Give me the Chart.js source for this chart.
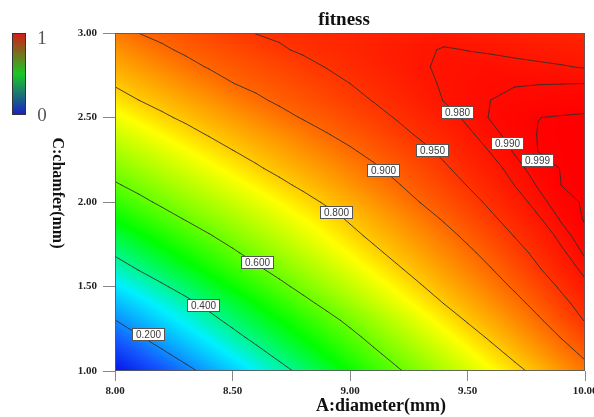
<!DOCTYPE html>
<html>
<head>
<meta charset="utf-8">
<script src="https://cdn.jsdelivr.net/npm/chart.js@4.4.0/dist/chart.umd.min.js"></script>
<style>
  html, body { margin: 0; padding: 0; background: #fff; }
  #wrap { width: 594px; height: 417px; }
</style>
</head>
<body>
<div id="wrap"><canvas id="chart" width="594" height="417"></canvas></div>
<script>
// Response-surface grid: diameter A (mm) across, chamfer C (mm) up.
const diameterA = [8.0, 8.1, 8.2, 8.3, 8.4, 8.5, 8.6, 8.7, 8.8, 8.9, 9.0,
                   9.1, 9.2, 9.3, 9.4, 9.5, 9.6, 9.7, 9.8, 9.9, 10.0];
const chamferC = [1.0, 1.1, 1.2, 1.3, 1.4, 1.5, 1.6, 1.7, 1.8, 1.9, 2.0,
                  2.1, 2.2, 2.3, 2.4, 2.5, 2.6, 2.7, 2.8, 2.9, 3.0];

// fitness, one row per chamfer value (C = 1.0 first), one column per diameter
const fitness = [
  [0.030,0.079,0.127,0.176,0.225,0.274,0.324,0.374,0.420,0.463,0.506,0.548,0.591,0.630,0.668,0.706,0.745,0.783,0.818,0.852,0.885],
  [0.087,0.135,0.184,0.232,0.280,0.327,0.375,0.420,0.461,0.503,0.544,0.586,0.625,0.663,0.701,0.740,0.778,0.814,0.846,0.879,0.908],
  [0.143,0.192,0.238,0.284,0.330,0.377,0.420,0.461,0.500,0.540,0.580,0.620,0.658,0.696,0.734,0.773,0.809,0.840,0.871,0.902,0.931],
  [0.199,0.244,0.289,0.333,0.378,0.420,0.459,0.498,0.538,0.577,0.616,0.654,0.692,0.730,0.768,0.805,0.834,0.864,0.894,0.923,0.952],
  [0.253,0.295,0.337,0.379,0.420,0.460,0.500,0.540,0.580,0.618,0.655,0.691,0.728,0.764,0.801,0.829,0.858,0.886,0.914,0.941,0.964],
  [0.307,0.348,0.390,0.429,0.468,0.506,0.545,0.583,0.620,0.655,0.691,0.726,0.761,0.796,0.825,0.852,0.879,0.906,0.931,0.955,0.975],
  [0.360,0.402,0.439,0.476,0.513,0.550,0.587,0.622,0.656,0.690,0.724,0.758,0.792,0.820,0.846,0.872,0.898,0.923,0.947,0.967,0.985],
  [0.411,0.447,0.483,0.518,0.554,0.590,0.624,0.656,0.689,0.722,0.755,0.788,0.816,0.841,0.866,0.891,0.915,0.938,0.958,0.977,0.992],
  [0.456,0.491,0.525,0.560,0.595,0.627,0.658,0.689,0.721,0.752,0.784,0.812,0.836,0.861,0.885,0.909,0.930,0.951,0.968,0.985,0.997],
  [0.502,0.536,0.571,0.604,0.633,0.662,0.692,0.721,0.750,0.779,0.807,0.832,0.856,0.881,0.904,0.925,0.945,0.962,0.978,0.9915,1.000],
  [0.547,0.581,0.613,0.641,0.669,0.697,0.725,0.753,0.781,0.807,0.831,0.854,0.878,0.901,0.920,0.939,0.956,0.972,0.986,0.996,1.000],
  [0.592,0.621,0.649,0.677,0.704,0.732,0.759,0.787,0.811,0.833,0.854,0.876,0.897,0.916,0.934,0.951,0.966,0.9802,0.991,0.9991,1.000],
  [0.629,0.656,0.684,0.711,0.738,0.765,0.793,0.815,0.834,0.854,0.874,0.894,0.912,0.929,0.946,0.961,0.974,0.986,0.995,0.9994,1.000],
  [0.665,0.692,0.718,0.745,0.772,0.798,0.818,0.837,0.857,0.876,0.895,0.911,0.926,0.942,0.956,0.969,0.981,0.991,0.9991,0.9995,1.000],
  [0.701,0.727,0.754,0.780,0.804,0.823,0.842,0.860,0.879,0.898,0.912,0.926,0.941,0.954,0.965,0.977,0.987,0.994,0.9993,0.9996,1.000],
  [0.737,0.763,0.790,0.811,0.830,0.848,0.867,0.886,0.903,0.915,0.928,0.940,0.952,0.963,0.973,0.983,0.991,0.9944,0.9989,0.9996,1.000],
  [0.773,0.799,0.818,0.837,0.855,0.874,0.892,0.907,0.918,0.929,0.940,0.951,0.961,0.971,0.9805,0.9855,0.9901,0.9916,0.993,0.9944,0.9958],
  [0.806,0.825,0.843,0.862,0.880,0.899,0.910,0.920,0.930,0.940,0.9499,0.959,0.967,0.976,0.9817,0.9848,0.9879,0.9896,0.9898,0.9899,0.9901],
  [0.831,0.850,0.868,0.887,0.903,0.913,0.923,0.932,0.942,0.951,0.958,0.965,0.972,0.979,0.9814,0.9832,0.985,0.9836,0.9823,0.9809,0.979],
  [0.855,0.874,0.893,0.907,0.917,0.927,0.937,0.947,0.9536,0.9585,0.9634,0.9683,0.9732,0.978,0.9809,0.9798,0.9783,0.9767,0.9751,0.9736,0.972],
  [0.880,0.9002,0.911,0.921,0.932,0.942,0.9508,0.954,0.9571,0.9603,0.9634,0.9666,0.9697,0.9729,0.976,0.9738,0.9717,0.9695,0.9673,0.9652,0.963]
];

const contourLevels = [0.2, 0.4, 0.6, 0.8, 0.9, 0.95, 0.98, 0.99, 0.999];
const contourLabels = ['0.200', '0.400', '0.600', '0.800', '0.900', '0.950', '0.980', '0.990', '0.999'];
// where each contour carries its tag, as (diameter, chamfer)
const labelAtA = [8.14, 8.374, 8.604, 8.94, 9.14, 9.349, 9.455, 9.668, 9.796];
const labelAtC = [1.219, 1.391, 1.645, 1.941, 2.189, 2.308, 2.533, 2.349, 2.249];

const xTickValues = [8.0, 8.5, 9.0, 9.5, 10.0];
const yTickValues = [1.0, 1.5, 2.0, 2.5, 3.0];

// colour ramp: blue - cyan - green - yellow - red
const ramp = [
  [0.00, [0, 0, 225]],
  [0.14, [20, 90, 255]],
  [0.32, [0, 240, 255]],
  [0.50, [0, 255, 0]],
  [0.75, [255, 255, 0]],
  [1.00, [255, 0, 0]]
];

function rampColor(v) {
  v = Math.max(0, Math.min(1, v));
  for (let k = 1; k < ramp.length; k++) {
    if (v <= ramp[k][0]) {
      const [v0, c0] = ramp[k - 1], [v1, c1] = ramp[k];
      const t = (v - v0) / (v1 - v0);
      return [c0[0] + (c1[0] - c0[0]) * t, c0[1] + (c1[1] - c0[1]) * t, c0[2] + (c1[2] - c0[2]) * t];
    }
  }
  return ramp[ramp.length - 1][1];
}

// bilinear read of the grid between its nodes
function fitnessAt(a, c) {
  const nA = diameterA.length, nC = chamferC.length;
  const stepA = diameterA[1] - diameterA[0], stepC = chamferC[1] - chamferC[0];
  let fi = Math.max(0, Math.min(nA - 1, (a - diameterA[0]) / stepA));
  let fj = Math.max(0, Math.min(nC - 1, (c - chamferC[0]) / stepC));
  const i = Math.min(Math.floor(fi), nA - 2), j = Math.min(Math.floor(fj), nC - 2);
  const tx = fi - i, ty = fj - j;
  return fitness[j][i] * (1 - tx) * (1 - ty) + fitness[j][i + 1] * tx * (1 - ty) +
         fitness[j + 1][i] * (1 - tx) * ty + fitness[j + 1][i + 1] * tx * ty;
}

// marching squares over the grid, one list of segments per level
function contourSegments(level) {
  const segs = [];
  const above = v => v >= level;
  for (let j = 0; j < chamferC.length - 1; j++) {
    for (let i = 0; i < diameterA.length - 1; i++) {
      const corners = [
        [diameterA[i], chamferC[j], fitness[j][i]],
        [diameterA[i + 1], chamferC[j], fitness[j][i + 1]],
        [diameterA[i + 1], chamferC[j + 1], fitness[j + 1][i + 1]],
        [diameterA[i], chamferC[j + 1], fitness[j + 1][i]]
      ];
      const pts = [];
      for (let e = 0; e < 4; e++) {
        const p = corners[e], q = corners[(e + 1) % 4];
        if (above(p[2]) !== above(q[2])) {
          const t = (level - p[2]) / (q[2] - p[2]);
          pts.push({ e, a: p[0] + (q[0] - p[0]) * t, c: p[1] + (q[1] - p[1]) * t });
        }
      }
      if (pts.length === 2) {
        segs.push([pts[0], pts[1]]);
      } else if (pts.length === 4) {
        const centre = (corners[0][2] + corners[1][2] + corners[2][2] + corners[3][2]) / 4;
        if (above(centre) === above(corners[0][2])) {
          segs.push([pts[0], pts[1]], [pts[2], pts[3]]);
        } else {
          segs.push([pts[3], pts[0]], [pts[1], pts[2]]);
        }
      }
    }
  }
  return segs;
}

const surfacePlugin = {
  id: 'surface',
  beforeDatasetsDraw(chart) {
    const { ctx, chartArea } = chart;
    const xs = chart.scales.x, ys = chart.scales.y;
    const left = Math.round(chartArea.left), top = Math.round(chartArea.top);
    const w = Math.round(chartArea.right) - left, h = Math.round(chartArea.bottom) - top;

    // colour field
    const off = document.createElement('canvas');
    off.width = w; off.height = h;
    const octx = off.getContext('2d');
    const img = octx.createImageData(w, h);
    for (let py = 0; py < h; py++) {
      const c = ys.getValueForPixel(top + py + 0.5);
      for (let px = 0; px < w; px++) {
        const a = xs.getValueForPixel(left + px + 0.5);
        const col = rampColor(fitnessAt(a, c));
        const k = (py * w + px) * 4;
        img.data[k] = col[0]; img.data[k + 1] = col[1]; img.data[k + 2] = col[2]; img.data[k + 3] = 255;
      }
    }
    octx.putImageData(img, 0, 0);
    ctx.drawImage(off, left, top);

    // contour lines
    ctx.save();
    ctx.beginPath();
    ctx.rect(left, top, w, h);
    ctx.clip();
    ctx.strokeStyle = 'rgba(45,45,45,0.85)';
    ctx.lineWidth = 1;
    ctx.lineCap = 'round';
    ctx.lineJoin = 'round';
    contourLevels.forEach(level => {
      ctx.beginPath();
      contourSegments(level).forEach(([p, q]) => {
        ctx.moveTo(xs.getPixelForValue(p.a), ys.getPixelForValue(p.c));
        ctx.lineTo(xs.getPixelForValue(q.a), ys.getPixelForValue(q.c));
      });
      ctx.stroke();
    });
    ctx.restore();

    // frame
    ctx.save();
    ctx.strokeStyle = 'rgba(90,90,90,0.9)';
    ctx.lineWidth = 1;
    ctx.strokeRect(left + 0.5, top + 0.5, w - 1, h - 1);
    ctx.restore();

    // contour tags
    ctx.save();
    ctx.font = '10px "Liberation Sans", Arial, sans-serif';
    ctx.textAlign = 'center';
    ctx.textBaseline = 'middle';
    contourLabels.forEach((txt, k) => {
      const x = xs.getPixelForValue(labelAtA[k]), y = ys.getPixelForValue(labelAtC[k]);
      const tw = ctx.measureText(txt).width;
      const bw = Math.round(tw + 7), bh = 12;
      const bx = Math.round(x - bw / 2) + 0.5, by = Math.round(y - bh / 2) + 0.5;
      ctx.fillStyle = '#ffffff';
      ctx.fillRect(bx, by, bw, bh);
      ctx.strokeStyle = '#555555';
      ctx.lineWidth = 1;
      ctx.strokeRect(bx, by, bw, bh);
      ctx.fillStyle = '#3a3a3a';
      ctx.fillText(txt, Math.round(x) + 0.5, Math.round(y) + 1);
    });
    ctx.restore();
  },
  afterDraw(chart) {
    const { ctx } = chart;
    ctx.save();
    // title
    ctx.fillStyle = '#111';
    ctx.textAlign = 'center';
    ctx.textBaseline = 'alphabetic';
    ctx.font = 'bold 19px "Liberation Serif", "Times New Roman", serif';
    ctx.fillText('fitness', 344, 25);
    // axis titles
    ctx.font = 'bold 18px "Liberation Serif", "Times New Roman", serif';
    ctx.fillText('A:diameter(mm)', 381, 411);
    ctx.save();
    ctx.translate(57, 193);
    ctx.rotate(Math.PI / 2);
    ctx.textBaseline = 'middle';
    ctx.font = 'bold 16px "Liberation Serif", "Times New Roman", serif';
    ctx.fillText('C:chamfer(mm)', 0, 0);
    ctx.restore();

    // colour key
    const kx = 12, ky = 33, kw = 14, kh = 82;
    const g = ctx.createLinearGradient(0, ky, 0, ky + kh);
    g.addColorStop(0, 'rgb(215,25,25)');
    g.addColorStop(0.5, 'rgb(25,200,35)');
    g.addColorStop(1, 'rgb(25,30,200)');
    ctx.fillStyle = g;
    ctx.fillRect(kx, ky, kw, kh);
    ctx.strokeStyle = '#333';
    ctx.lineWidth = 1;
    ctx.strokeRect(kx + 0.5, ky + 0.5, kw - 1, kh - 1);
    ctx.fillStyle = '#555';
    ctx.font = '19px "Liberation Serif", "Times New Roman", serif';
    ctx.textBaseline = 'middle';
    ctx.fillText('1', 42, 39);
    ctx.fillText('0', 42, 116);
    ctx.restore();
  }
};

const tickFont = { family: '"Liberation Serif", "Times New Roman", serif', size: 11, weight: 'bold' };

new Chart(document.getElementById('chart'), {
  type: 'scatter',
  data: { datasets: [] },
  options: {
    responsive: false,
    animation: false,
    events: [],
    layout: { padding: { top: 33, right: 9, left: 0, bottom: 0 } },
    plugins: { legend: { display: false }, tooltip: { enabled: false }, title: { display: false } },
    scales: {
      x: {
        type: 'linear', min: 8, max: 10,
        afterBuildTicks: s => { s.ticks = xTickValues.map(v => ({ value: v })); },
        afterFit: s => { s.height = 46; s.paddingLeft = 0; s.paddingRight = 0; },
        ticks: { autoSkip: false, maxRotation: 0, padding: 4, color: '#222', font: tickFont,
                 callback: v => Number(v).toFixed(2) },
        grid: { drawOnChartArea: false, drawTicks: true, tickLength: 10, color: '#888' },
        border: { display: false }
      },
      y: {
        type: 'linear', min: 1, max: 3,
        afterBuildTicks: s => { s.ticks = yTickValues.map(v => ({ value: v })); },
        afterFit: s => { s.width = 115; s.paddingTop = 0; s.paddingBottom = 0; },
        ticks: { autoSkip: false, padding: 6, color: '#222', font: tickFont,
                 callback: v => Number(v).toFixed(2) },
        grid: { drawOnChartArea: false, drawTicks: true, tickLength: 12, color: '#888' },
        border: { display: false }
      }
    }
  },
  plugins: [surfacePlugin]
});
</script>
</body>
</html>
